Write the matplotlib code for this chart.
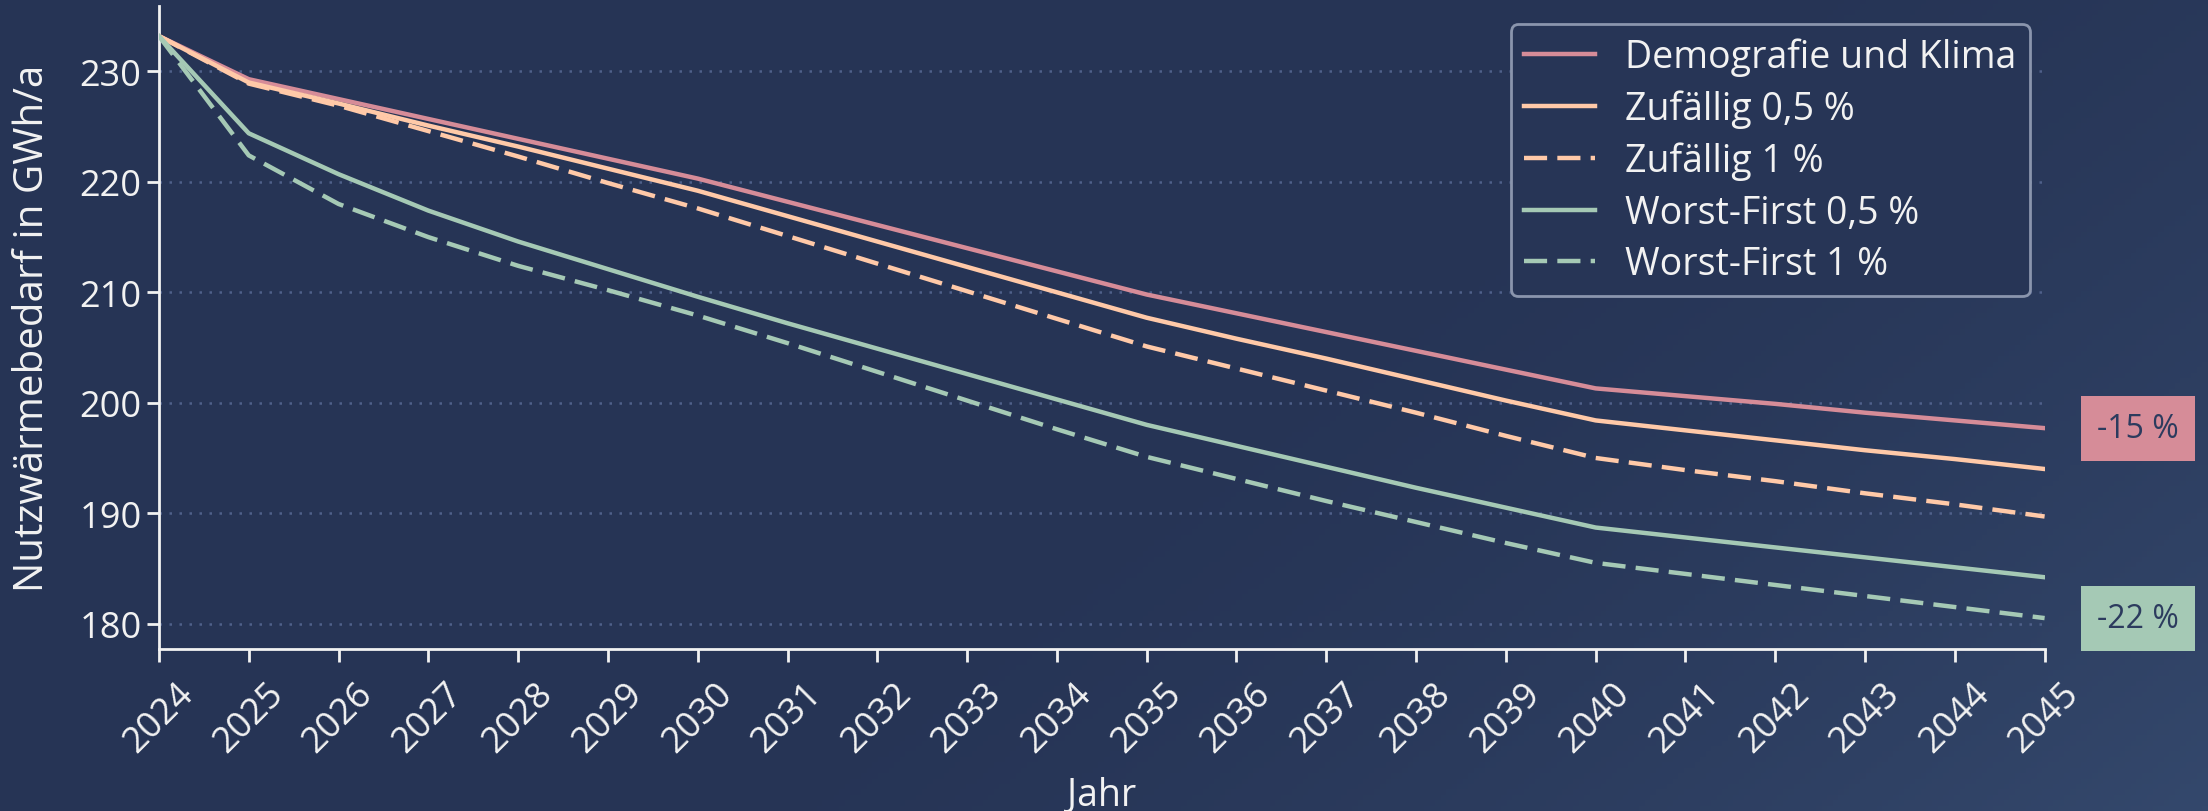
import matplotlib
matplotlib.use("Agg")
import matplotlib.pyplot as plt
import numpy as np

plt.rcParams['font.family'] = ['Open Sans', 'DejaVu Sans']

years = list(range(2024, 2046))

demografie = [233.2, 229.3, 227.5, 225.7, 223.9, 222.1, 220.3, 218.2, 216.1, 214.0, 211.9,
              209.8, 208.1, 206.4, 204.7, 203.0, 201.3, 200.6, 199.9, 199.1, 198.4, 197.7]
zufaellig_05 = [233.2, 229.0, 227.1, 225.1, 223.2, 221.2, 219.2, 216.9, 214.6, 212.3, 210.0,
                207.7, 205.8, 204.0, 202.1, 200.2, 198.4, 197.5, 196.6, 195.7, 194.9, 194.0]
zufaellig_1 = [233.2, 228.9, 226.9, 224.6, 222.3, 219.9, 217.6, 215.1, 212.6, 210.1, 207.6,
               205.1, 203.1, 201.1, 199.1, 197.0, 195.0, 193.9, 192.9, 191.8, 190.8, 189.7]
worst_05 = [233.2, 224.4, 220.7, 217.4, 214.6, 212.1, 209.6, 207.2, 204.9, 202.6, 200.3,
            198.0, 196.1, 194.2, 192.3, 190.5, 188.7, 187.8, 186.9, 186.0, 185.1, 184.2]
worst_1 = [233.2, 222.4, 218.0, 215.0, 212.4, 210.2, 207.9, 205.4, 202.8, 200.2, 197.6,
           195.1, 193.1, 191.1, 189.2, 187.3, 185.5, 184.5, 183.5, 182.5, 181.5, 180.5]

labels = ["Demografie und Klima", "Zufällig 0,5 %", "Zufällig 1 %",
          "Worst-First 0,5 %", "Worst-First 1 %"]
end_labels = ["-15 %", "-22 %"]

PINK = "#d68c98"
PEACH = "#ffc9a8"
GREEN = "#a5c9b5"
TEXT = "#f2f2f2"
BG = "#273556"
DARKTXT = "#2c3b5e"

fig = plt.figure(figsize=(22.08, 8.12), dpi=100)
fig.patch.set_facecolor(BG)

# background gradient
bg_ax = fig.add_axes([0, 0, 1, 1], zorder=-10)
bg_ax.set_axis_off()
gx, gy = np.meshgrid(np.linspace(0, 1, 400), np.linspace(0, 1, 150))
t = np.clip((gx * 0.75 + gy * 0.35 - 0.55) / 0.55, 0, 1) ** 1.6
c0 = np.array([0x26, 0x34, 0x55]) / 255
c1 = np.array([0x34, 0x48, 0x6c]) / 255
img = c0[None, None, :] * (1 - t[..., None]) + c1[None, None, :] * t[..., None]
bg_ax.imshow(img, aspect='auto', extent=[0, 1, 0, 1], origin='upper')

ax = fig.add_axes([0.072, 0.1995, 0.854, 0.7915])
ax.set_facecolor('none')

series = [demografie, zufaellig_05, zufaellig_1, worst_05, worst_1]
colors = [PINK, PEACH, PEACH, GREEN, GREEN]
styles = ['-', '-', '--', '-', '--']
for s, c, ls, lab in zip(series, colors, styles, labels):
    line, = ax.plot(years, s, color=c, lw=3.2, ls=ls, label=lab, zorder=3)
    if ls == '--':
        line.set_dashes((5.2, 2.3))

ax.set_xlim(2024, 2045)
ax.set_ylim(177.7, 235.9)
ax.set_xticks(years)
ax.set_xticklabels([str(y) for y in years], rotation=45, ha='center')
ax.set_yticks([180, 190, 200, 210, 220, 230])

for sp in ['top', 'right']:
    ax.spines[sp].set_visible(False)
for sp in ['left', 'bottom']:
    ax.spines[sp].set_color(TEXT)
    ax.spines[sp].set_linewidth(2)

ax.tick_params(axis='both', colors=TEXT, labelsize=26, length=9, width=2)
ax.tick_params(axis='x', pad=10)
ax.yaxis.grid(True, linestyle=(0, (1, 3)), color="#4f608a", lw=1.8, zorder=0)

ax.set_xlabel("Jahr", color=TEXT, fontsize=27)
ax.set_ylabel("Nutzwärmebedarf in GWh/a", color=TEXT, fontsize=29)
ax.xaxis.set_label_coords(0.5, -0.197)
ax.yaxis.set_label_coords(-0.056, 0.5)

leg = ax.legend(loc='upper right', bbox_to_anchor=(0.992, 0.972), fontsize=27,
                frameon=True, facecolor=BG, edgecolor="#8a95ad", framealpha=1.0,
                handlelength=1.9, handletextpad=0.8, borderpad=0.35, labelspacing=0.36,
                borderaxespad=0)
leg.get_frame().set_linewidth(2)
for txt in leg.get_texts():
    txt.set_color(TEXT)

ax.annotate(end_labels[0], xy=(years[-1], demografie[-1]), xytext=(38, 0),
            textcoords='offset points', ha='left', va='center', fontsize=23,
            color=DARKTXT, annotation_clip=False,
            bbox=dict(boxstyle='square,pad=0.5', fc=PINK, ec='none'))
ax.annotate(end_labels[1], xy=(years[-1], worst_1[-1]), xytext=(38, 0),
            textcoords='offset points', ha='left', va='center', fontsize=23,
            color=DARKTXT, annotation_clip=False,
            bbox=dict(boxstyle='square,pad=0.5', fc=GREEN, ec='none'))

fig.savefig("out.png", dpi=100, facecolor=fig.get_facecolor())
